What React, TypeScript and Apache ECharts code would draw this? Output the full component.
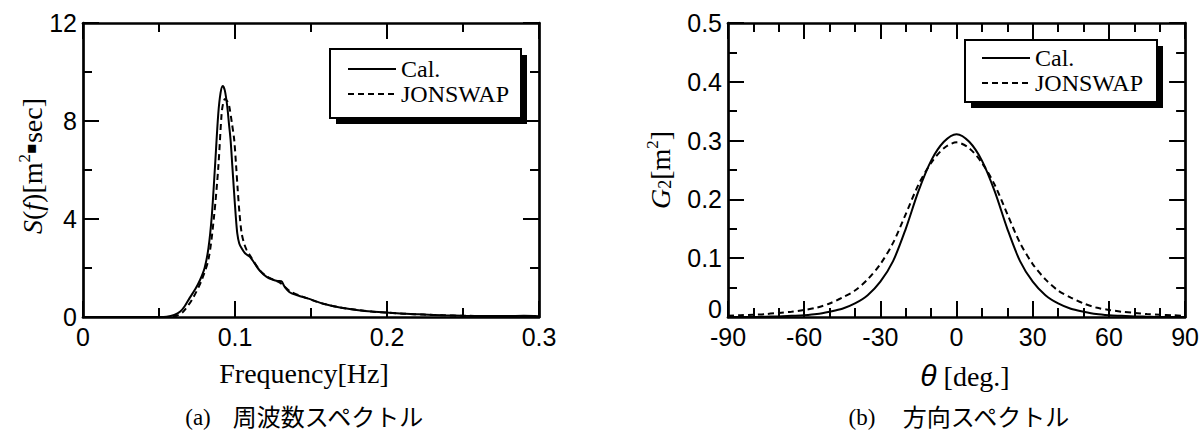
import React, { useEffect, useRef } from "react";
import * as echarts from "echarts";

// ---- (a) frequency spectrum ----
const freqCal = [0, 0.04, 0.05, 0.055, 0.06, 0.064, 0.067, 0.07, 0.074, 0.077, 0.08, 0.0825, 0.0847, 0.0868, 0.089, 0.0905, 0.0919, 0.0933, 0.0949, 0.096, 0.0971, 0.0982, 0.0993, 0.1004, 0.1015, 0.1028, 0.1044, 0.1066, 0.11, 0.1164, 0.1208, 0.125, 0.128, 0.1305, 0.1325, 0.1362, 0.1415, 0.1472, 0.1525, 0.1581, 0.169, 0.18, 0.19, 0.1998, 0.212, 0.224, 0.237, 0.25, 0.265, 0.279, 0.29, 0.3];
const specCal = [0, 0, 0, 0.01, 0.08, 0.22, 0.45, 0.76, 1.15, 1.51, 2.0, 2.8, 4.1, 6.1, 8.3, 9.15, 9.43, 9.25, 8.6, 7.9, 7.22, 6.2, 5.18, 4.2, 3.41, 3.0, 2.8, 2.6, 2.44, 1.88, 1.64, 1.52, 1.47, 1.46, 1.25, 1.0, 0.88, 0.77, 0.66, 0.54, 0.39, 0.29, 0.22, 0.18, 0.13, 0.1, 0.07, 0.05, 0.04, 0.04, 0.05, 0.03];
const freqJon = [0, 0.05, 0.057, 0.062, 0.066, 0.0722, 0.0781, 0.0827, 0.0862, 0.089, 0.0912, 0.0923, 0.0934, 0.095, 0.0962, 0.098, 0.0995, 0.1007, 0.1018, 0.103, 0.1044, 0.106, 0.1077, 0.11, 0.1164, 0.1208, 0.125, 0.13, 0.1362, 0.1415, 0.1472, 0.1525, 0.1581, 0.169, 0.18, 0.19, 0.1998, 0.212, 0.224, 0.237, 0.25, 0.265, 0.28, 0.3];
const specJon = [0, 0, 0, 0.06, 0.22, 0.76, 1.51, 2.4, 4.1, 6.1, 8.3, 8.75, 8.9, 8.8, 8.6, 7.9, 7.22, 6.2, 5.18, 4.2, 3.41, 3.0, 2.73, 2.5, 1.9, 1.66, 1.53, 1.38, 1.05, 0.9, 0.77, 0.65, 0.54, 0.39, 0.29, 0.22, 0.18, 0.13, 0.1, 0.07, 0.05, 0.04, 0.03, 0.03];

// ---- (b) directional spectrum ----
const thetaDeg = [-90, -85, -80, -75, -70, -65, -60, -55, -50, -45, -40, -35, -30, -25, -20, -15, -10, -5, 0, 5, 10, 15, 20, 25, 30, 35, 40, 45, 50, 55, 60, 65, 70, 75, 80, 85, 90];
const dirCal = [0, 0, 0, 0.0005, 0.001, 0.002, 0.003, 0.005, 0.009, 0.014, 0.023, 0.037, 0.06, 0.095, 0.15, 0.214, 0.266, 0.298, 0.311, 0.298, 0.266, 0.214, 0.15, 0.095, 0.06, 0.037, 0.023, 0.014, 0.009, 0.005, 0.003, 0.002, 0.001, 0.0005, 0, 0, 0];
const dirJon = [0.002, 0.003, 0.004, 0.005, 0.007, 0.009, 0.012, 0.016, 0.023, 0.033, 0.045, 0.064, 0.09, 0.126, 0.175, 0.225, 0.262, 0.287, 0.297, 0.287, 0.262, 0.225, 0.175, 0.126, 0.09, 0.064, 0.045, 0.033, 0.023, 0.016, 0.012, 0.009, 0.007, 0.005, 0.004, 0.003, 0.002];

const seriesNames = ["Cal.", "JONSWAP"];

const BLACK = "#000";
const SANS = "Liberation Sans";
const SERIF = "Liberation Serif";
const CJK = "Noto Sans CJK JP";

const pairs = (xs: number[], ys: number[]) => xs.map((x, i) => [x, ys[i]]);

const fmt1 = (v: number) => (Math.abs(v) < 1e-9 ? "0" : String(Math.round(v * 10) / 10));
// the zero label of the right chart sits a little higher, as in the original
const fmtRightY = (v: number) => (Math.abs(v) < 1e-9 ? "{z|0}" : String(Math.round(v * 10) / 10));

function makeAxis(
  gridIndex: number,
  position: string,
  min: number,
  max: number,
  interval: number,
  minorSplit: number,
  showLabel: boolean,
  formatter?: (v: number) => string
) {
  const isX = position === "bottom" || position === "top";
  return {
    type: "value",
    gridIndex,
    position,
    min,
    max,
    interval,
    axisLine: { show: true, onZero: false, lineStyle: { color: BLACK, width: 2.7 } },
    axisTick: { show: true, inside: true, length: 16, lineStyle: { color: BLACK, width: 2 } },
    minorTick: { show: true, splitNumber: minorSplit, length: 9, lineStyle: { color: BLACK, width: 2 } },
    axisLabel: {
      show: showLabel,
      color: BLACK,
      fontSize: 25,
      fontFamily: SANS,
      margin: isX ? 7 : 6,
      formatter: formatter,
      rich: { z: { fontSize: 25, fontFamily: SANS, color: BLACK, padding: [0, 0, 16, 0] } },
    },
    splitLine: { show: false },
    minorSplitLine: { show: false },
  };
}

const solid = { color: BLACK, width: 2, type: "solid" };
const dashed = { color: BLACK, width: 2, type: [6, 4] };

function legendBox(x: number, y: number, w: number, h: number, off: number) {
  return [
    { type: "rect", z: 3, shape: { x: x + off, y: y + off, width: w, height: h }, style: { fill: BLACK } },
    { type: "rect", z: 3, shape: { x, y, width: w, height: h }, style: { fill: "#fff", stroke: BLACK, lineWidth: 2 } },
  ];
}

// one legend per entry so each row sits at its own measured height
function legendItem(name: string, left: number, centerY: number) {
  return {
    data: [name],
    orient: "vertical",
    left,
    top: centerY - 11,
    padding: 0,
    itemWidth: 48,
    itemHeight: 22,
    selectedMode: false,
    itemStyle: { opacity: 0 },
    textStyle: { fontFamily: SERIF, fontSize: 24, color: BLACK, lineHeight: 22 },
  };
}

const titleRich = {
  i: { fontFamily: SERIF, fontStyle: "italic", fontSize: 28, lineHeight: 30, verticalAlign: "bottom", fill: BLACK },
  n: { fontFamily: SERIF, fontSize: 28, lineHeight: 30, verticalAlign: "bottom", fill: BLACK },
  sup: { fontFamily: SERIF, fontSize: 17, lineHeight: 17, verticalAlign: "top", fill: BLACK },
  sub: { fontFamily: SERIF, fontSize: 18, lineHeight: 18, verticalAlign: "bottom", fill: BLACK },
  dot: { fontFamily: "DejaVu Sans", fontSize: 16, lineHeight: 16, verticalAlign: "bottom", padding: [0, 0, 8, 0], fill: BLACK },
  th: { fontFamily: SANS, fontStyle: "italic", fontSize: 30, lineHeight: 30, verticalAlign: "bottom", fill: BLACK },
};

export default function App() {
  const ref = useRef<HTMLDivElement>(null);

  useEffect(() => {
    if (!ref.current) return;
    const chart = echarts.init(ref.current, undefined, { renderer: "svg" });
    const option: any = {
      animation: false,
      backgroundColor: "#fff",
      grid: [
        { left: 83, top: 23, width: 456, height: 294 },
        { left: 728, top: 23, width: 459, height: 294 },
      ],
      xAxis: [
        makeAxis(0, "bottom", 0, 0.3, 0.1, 2, true, fmt1),
        makeAxis(0, "top", 0, 0.3, 0.1, 2, false),
        makeAxis(1, "bottom", -90, 90, 30, 3, true, (v: number) => String(v)),
        makeAxis(1, "top", -90, 90, 30, 3, false),
      ],
      yAxis: [
        makeAxis(0, "left", 0, 12, 4, 2, true, (v: number) => String(v)),
        makeAxis(0, "right", 0, 12, 4, 2, false),
        makeAxis(1, "left", 0, 0.5, 0.1, 2, true, fmtRightY),
        makeAxis(1, "right", 0, 0.5, 0.1, 2, false),
      ],
      legend: [
        legendItem(seriesNames[0], 347, 68),
        legendItem(seriesNames[1], 347, 93),
        legendItem(seriesNames[0], 981, 57),
        legendItem(seriesNames[1], 981, 82),
      ],
      series: [
        { type: "line", name: seriesNames[0], xAxisIndex: 0, yAxisIndex: 0, data: pairs(freqCal, specCal), symbol: "none", smooth: 0.3, lineStyle: solid, itemStyle: { color: BLACK } },
        { type: "line", name: seriesNames[1], xAxisIndex: 0, yAxisIndex: 0, data: pairs(freqJon, specJon), symbol: "none", smooth: 0.3, lineStyle: dashed, itemStyle: { color: BLACK } },
        { type: "line", name: seriesNames[0], xAxisIndex: 2, yAxisIndex: 2, data: pairs(thetaDeg, dirCal), symbol: "none", smooth: 0.3, lineStyle: solid, itemStyle: { color: BLACK } },
        { type: "line", name: seriesNames[1], xAxisIndex: 2, yAxisIndex: 2, data: pairs(thetaDeg, dirJon), symbol: "none", smooth: 0.3, lineStyle: dashed, itemStyle: { color: BLACK } },
      ],
      graphic: [
        ...legendBox(330, 49, 191, 69, 6),
        ...legendBox(965, 40, 192, 62, 6),
        {
          type: "text", x: 31, y: 166, rotation: Math.PI / 2,
          style: { text: "{i|S}{n|(}{i|f}{n|)[m}{sup|2}{dot|▪}{n|sec]}", rich: titleRich, align: "center", verticalAlign: "middle" },
        },
        {
          type: "text", x: 659, y: 170, rotation: Math.PI / 2,
          style: { text: "{i|G}{sub|2}{n|[m}{sup|2}{n|]}", rich: titleRich, align: "center", verticalAlign: "middle" },
        },
        {
          type: "text", x: 304, y: 373,
          style: { text: "Frequency[Hz]", fontFamily: SERIF, fontSize: 28, fill: BLACK, align: "center", verticalAlign: "middle" },
        },
        {
          type: "text", x: 965, y: 375,
          style: { text: "{th|θ}{n| [deg.]}", rich: titleRich, align: "center", verticalAlign: "middle" },
        },
        { type: "text", x: 198, y: 417, style: { text: "(a)", fontFamily: SERIF, fontSize: 23, fill: BLACK, align: "center", verticalAlign: "middle" } },
        { type: "text", x: 328, y: 415, style: { text: "周波数スペクトル", fontFamily: CJK, fontSize: 24, fill: BLACK, align: "center", verticalAlign: "middle" } },
        { type: "text", x: 862, y: 417, style: { text: "(b)", fontFamily: SERIF, fontSize: 23, fill: BLACK, align: "center", verticalAlign: "middle" } },
        { type: "text", x: 986, y: 415, style: { text: "方向スペクトル", fontFamily: CJK, fontSize: 24, fill: BLACK, align: "center", verticalAlign: "middle" } },
      ],
    };
    chart.setOption(option);
    return () => chart.dispose();
  }, []);

  return (
    <div
      ref={ref}
      style={{ position: "fixed", left: 0, top: 0, width: 1202, height: 432, background: "#fff" }}
    />
  );
}
